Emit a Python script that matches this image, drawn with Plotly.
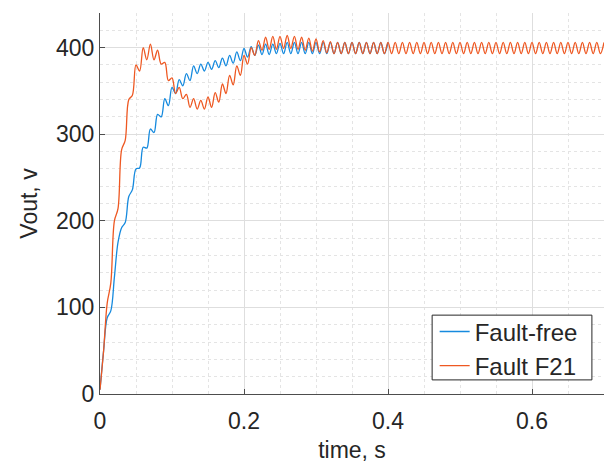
import plotly.graph_objects as go

# Sampling step of the recorded waveforms (s); values read at ripple peaks/troughs
T_STEP = 0.005

# Fault-free output voltage (V), 0 .. 0.4 s
vout_fault_free = [
    5, 50, 88, 96, 135, 175, 192, 198, 228, 236,
    260, 261, 285, 284, 306, 302, 323, 320, 341, 333,
    354, 347, 363, 356, 370, 362, 379, 370, 381, 373,
    383, 375, 385, 377, 388, 379, 391, 382, 395, 385,
    399, 389, 401, 391, 403, 392, 404, 392, 404, 393,
    405, 393, 406, 393, 406, 393, 406, 393, 406, 393,
    406, 393, 406, 393, 406, 393, 406, 393, 406, 393,
    406, 393, 406, 393, 406, 393, 406, 393, 406, 393,
    406,
]

# Fault F21 output voltage (V), 0 .. 0.7 s
vout_fault_f21 = [
    5, 50, 105, 128, 200, 214, 282, 293, 340, 345,
    380, 373, 400, 386, 404, 386, 397, 381, 383, 362,
    365, 347, 354, 341, 346, 331, 341, 329, 339, 329,
    343, 331, 348, 337, 358, 347, 368, 357, 379, 368,
    391, 381, 400, 391, 408, 397, 412, 398, 413, 398,
    413, 399, 414, 399, 413, 398, 412, 397, 411, 396,
    410, 395, 408, 394, 407, 393, 406, 393, 406, 393,
    406, 393, 406, 393, 406, 393, 406, 393, 406, 393,
    406, 393, 406, 393, 406, 393, 406, 393, 406, 393,
    406, 393, 406, 393, 406, 393, 406, 393, 406, 393,
    406, 393, 406, 393, 406, 393, 406, 393, 406, 393,
    406, 393, 406, 393, 406, 393, 406, 393, 406, 393,
    406, 393, 406, 393, 406, 393, 406, 393, 406, 393,
    406, 393, 406, 393, 406, 393, 406, 393, 406, 393,
    406,
]

t_fault_free = [i * T_STEP for i in range(len(vout_fault_free))]
t_fault_f21 = [i * T_STEP for i in range(len(vout_fault_f21))]

x_ticks = [0, 0.2, 0.4, 0.6]
x_tick_labels = ["0", "0.2", "0.4", "0.6"]
y_ticks = [0, 100, 200, 300, 400]
y_tick_labels = ["0", "100", "200", "300", "400"]

BLUE = "rgb(22,138,222)"
ORANGE = "rgb(238,88,34)"
FONT = "Liberation Sans, Arial, sans-serif"
TXT = "#262626"

fig = go.Figure()
fig.add_trace(go.Scatter(
    x=t_fault_free, y=vout_fault_free, name="Fault-free", mode="lines",
    line=dict(color=BLUE, width=1.3, shape="spline", smoothing=1.0),
))
fig.add_trace(go.Scatter(
    x=t_fault_f21, y=vout_fault_f21, name="Fault F21", mode="lines",
    line=dict(color=ORANGE, width=1.3, shape="spline", smoothing=1.0),
))

axis_common = dict(
    showgrid=True, gridcolor="#dedede", gridwidth=1,
    zeroline=False, showline=True, linecolor="#4d4d4d", linewidth=1,
    ticks="inside", ticklen=5, tickcolor="#4d4d4d",
    tickfont=dict(family=FONT, size=23, color=TXT),
    automargin=False,
)

fig.update_xaxes(
    range=[0, 0.7], tickvals=x_ticks, ticktext=x_tick_labels,
    ticklabelstandoff=6,
    title=dict(text="time, s", font=dict(family=FONT, size=23, color=TXT), standoff=10),
    minor=dict(dtick=0.05, showgrid=True, gridcolor="#e4e4e4", griddash="dot", ticks=""),
    **axis_common,
)
fig.update_yaxes(
    range=[0, 440], tickvals=y_ticks, ticktext=y_tick_labels,
    title=dict(text="Vout, v", font=dict(family=FONT, size=23, color=TXT), standoff=11),
    minor=dict(dtick=20, showgrid=True, gridcolor="#e4e4e4", griddash="dot", ticks=""),
    **axis_common,
)

# legend frame (MATLAB-style tight box) drawn as a shape behind the legend entries
fig.add_shape(
    type="rect", xref="paper", yref="paper",
    x0=0.659, x1=0.976, y0=0.037, y1=0.207,
    fillcolor="white", line=dict(color="#262626", width=1), layer="above",
)

fig.update_layout(
    width=604, height=463,
    margin=dict(l=100, r=0, t=13, b=69),
    paper_bgcolor="white", plot_bgcolor="white",
    font=dict(family=FONT, color=TXT),
    legend=dict(
        x=0.664, y=0.222, xanchor="left", yanchor="top",
        bgcolor="rgba(0,0,0,0)", borderwidth=0,
        font=dict(family=FONT, size=24, color=TXT),
        tracegroupgap=0, itemwidth=30,
    ),
)

fig.write_html(
    "out.html",
    config={"displayModeBar": False},
    post_script="document.body.style.margin='0';document.body.style.overflow='hidden';",
)
